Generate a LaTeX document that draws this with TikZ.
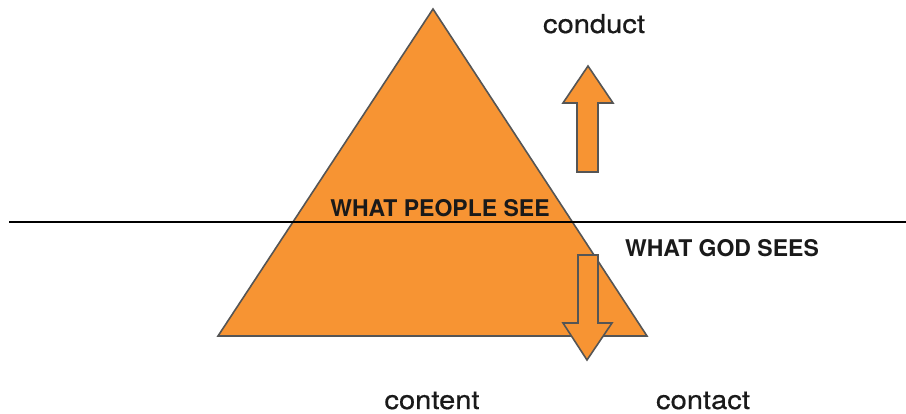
\documentclass[tikz,border=0pt]{standalone}
\usepackage{fontspec}
\setmainfont{TeX Gyre Heros}
\newfontfamily\wordfont[FakeStretch=1.12, FakeBold=0.6]{TeX Gyre Heros}
\definecolor{pyrorange}{HTML}{F79433}
\definecolor{pyrgray}{HTML}{555555}
\definecolor{pyrtext}{HTML}{1A1A1A}
\begin{document}
\begin{tikzpicture}[x=1pt, y=-1pt,
    block/.style={draw=pyrgray, fill=pyrorange, line width=1.6pt, line join=miter},
    word/.style={anchor=base, inner sep=0pt, text=pyrtext, font=\wordfont\fontsize{26}{30}\selectfont},
    caps/.style={anchor=base, inner sep=0pt, text=pyrtext, font=\fontsize{23}{27}\selectfont\bfseries}]
\useasboundingbox (0,0) rectangle (906,414);

% pyramid
\path [block] (433,9) -- (647,336) -- (218,336) -- cycle;

% waterline
\draw [black, line width=1.6pt] (9,222) -- (906,222);

% up arrow
\path [block] (588,66) -- (613,103) -- (598,103) -- (598,172)
		-- (577,172) -- (577,103) -- (563,103) -- cycle;
% down arrow
\path [block] (578,255) -- (598,255) -- (598,323) -- (612,323)
		-- (587,360) -- (563,323) -- (578,323) -- cycle;

\node[caps] (people) at (440,217) {WHAT PEOPLE SEE};
\node[caps] (god)    at (722,257) {WHAT GOD SEES};
\node[word] (conduct) at (594,33)  {conduct};
\node[word] (content) at (432,409) {content};
\node[word] (contact) at (703,409) {contact};
\end{tikzpicture}
\end{document}
